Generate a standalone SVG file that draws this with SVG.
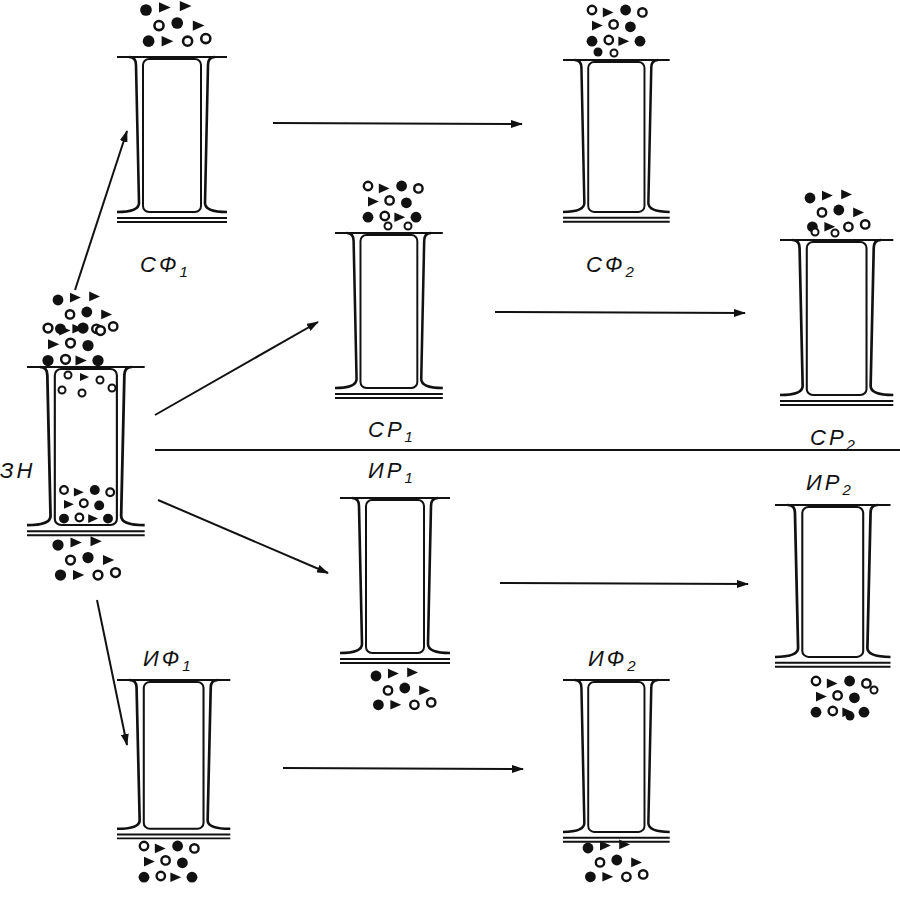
<svg xmlns="http://www.w3.org/2000/svg" xmlns:xlink="http://www.w3.org/1999/xlink" width="900" height="897" viewBox="0 0 900 897">
<style>
.c{fill:none;stroke:#111;stroke-width:2}
.w{fill:none;stroke:#111;stroke-width:2.6}
.t{font-family:"Liberation Sans",Arial,sans-serif;font-style:italic;font-size:22px;fill:#111;letter-spacing:3px}
.s{font-size:15px}
.a{stroke:#111;stroke-width:2;fill:none;marker-end:url(#ar)}
</style>
<defs>
<marker id="ar" markerWidth="12" markerHeight="8" refX="11" refY="4" orient="auto" markerUnits="userSpaceOnUse"><path d="M0 0L12 4L0 8z" fill="#111"/></marker>
<g id="cell">
<path class="c" d="M0 0H110"/>
<path class="w" d="M12 0Q19 0 19 8L22 146Q22 155 0 155"/>
<path class="w" d="M98 0Q91 0 91 8L88 146Q88 155 110 155"/>
<rect class="c" x="26" y="2" width="58" height="153" rx="6"/>
<path class="c" d="M0 161H110M0 165H110"/>
</g>
<circle id="o" r="3.5" fill="#fff" stroke="#111" stroke-width="2"/>
<circle id="f" r="4.5" fill="#111"/>
<path id="v" d="M-4 -4L5 0L-4 4z" fill="#111"/>
<g id="pa">
<use href="#f" x="0" y="0"/><use href="#v" x="14" y="-2"/><use href="#v" x="30" y="-3"/>
<use href="#o" x="10" y="12"/><use href="#f" x="24" y="10"/><use href="#v" x="40" y="12"/>
<use href="#f" x="2" y="24"/><use href="#v" x="16" y="24"/><use href="#o" x="32" y="24"/><use href="#o" x="46" y="22"/>
</g>
<g id="pb">
<use href="#o" x="0" y="0"/><use href="#v" x="13" y="2"/><use href="#f" x="28" y="0"/><use href="#o" x="42" y="2"/>
<use href="#v" x="4" y="13"/><use href="#o" x="18" y="12"/><use href="#f" x="32" y="14"/>
<use href="#f" x="0" y="26"/><use href="#o" x="14" y="25"/><use href="#v" x="26" y="26"/><use href="#f" x="40" y="26"/>
</g>
</defs>
<g id="connectors">
<path class="a" d="M75 290L127 131"/>
<path class="a" d="M155 415L318 322"/>
<path class="a" d="M158 500L328 573"/>
<path class="a" d="M97 600L127 745"/>
<path class="a" d="M273 123L522 124"/>
<path class="a" d="M495 312L745 313"/>
<path class="a" d="M500 583L748 584"/>
<path class="a" d="M283 768L523 769"/>
<path d="M155 450H900" stroke="#111" stroke-width="2"/>
</g>
<g id="EN">
<use href="#cell" transform="translate(27,367) scale(1.07,1.02)"/>
<use href="#pa" transform="translate(58,300) scale(1.2)"/><use href="#pb" transform="translate(48,328) scale(1.25)"/>
<use href="#o" x="68" y="375"/><use href="#v" x="84" y="377"/><use href="#o" x="100" y="380"/><use href="#o" x="62" y="390"/><use href="#o" x="82" y="393"/><use href="#o" x="112" y="388"/>
<use href="#pb" transform="translate(64,490) scale(1.1)"/>
<use href="#pa" transform="translate(58,545) scale(1.25)"/>
<text class="t" x="0" y="478">ЗН</text>
</g>
<g id="SF1">
<use href="#cell" transform="translate(117,57)"/>
<use href="#pa" transform="translate(146,10) scale(1.3)"/>
<text class="t" x="140" y="272">СФ<tspan class="s" dy="5">1</tspan></text>
</g>
<g id="SF2">
<use href="#cell" transform="translate(563,60) scale(0.97,0.98)"/>
<use href="#pb" transform="translate(592,10) scale(1.2)"/><use href="#f" x="598" y="52"/><use href="#o" x="614" y="53"/>
<text class="t" x="586" y="272">СФ<tspan class="s" dy="5">2</tspan></text>
</g>
<g id="SR1">
<use href="#cell" transform="translate(335,233) scale(0.98,1.0)"/>
<use href="#pb" transform="translate(368,186) scale(1.2)"/><use href="#o" x="388" y="226"/><use href="#o" x="408" y="226"/>
<text class="t" x="368" y="437">СР<tspan class="s" dy="5">1</tspan></text>
</g>
<g id="SR2">
<use href="#cell" transform="translate(780,240) scale(1.03,1.0)"/>
<use href="#pa" transform="translate(810,198) scale(1.2)"/><use href="#o" x="815" y="232"/><use href="#o" x="835" y="233"/>
<text class="t" x="810" y="445">СР<tspan class="s" dy="5">2</tspan></text>
</g>
<g id="IR1">
<use href="#cell" transform="translate(340,498)"/>
<use href="#pa" transform="translate(376,676) scale(1.2)"/>
<text class="t" x="368" y="478">ИР<tspan class="s" dy="5">1</tspan></text>
</g>
<g id="IR2">
<use href="#cell" transform="translate(775,505) scale(1.05,0.98)"/>
<use href="#pb" transform="translate(816,681) scale(1.2)"/><use href="#o" x="874" y="690"/><use href="#f" x="850" y="716"/>
<text class="t" x="806" y="490">ИР<tspan class="s" dy="5">2</tspan></text>
</g>
<g id="IF1">
<use href="#cell" transform="translate(117,680) scale(1.03,0.96)"/>
<use href="#pb" transform="translate(144,846) scale(1.2)"/>
<text class="t" x="143" y="666">ИФ<tspan class="s" dy="5">1</tspan></text>
</g>
<g id="IF2">
<use href="#cell" transform="translate(563,680) scale(0.97,0.98)"/>
<use href="#pa" transform="translate(588,848) scale(1.2)"/>
<text class="t" x="588" y="666">ИФ<tspan class="s" dy="5">2</tspan></text>
</g>
</svg>
